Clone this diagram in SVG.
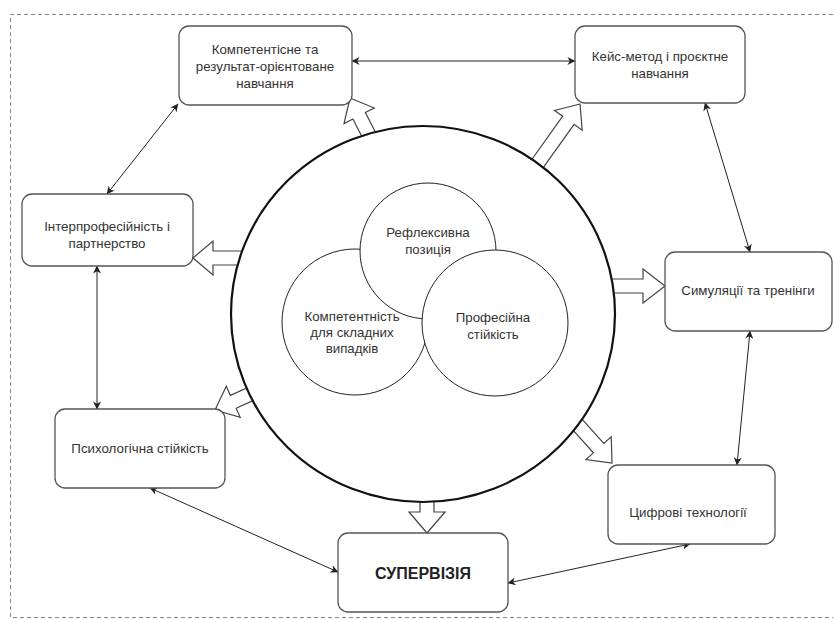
<svg xmlns="http://www.w3.org/2000/svg" width="835" height="619" viewBox="0 0 835 619">
<style>
.box{fill:#fff;stroke:#555;stroke-width:1.3}
.t{font-family:"Liberation Sans",Arial,sans-serif;font-size:13.3px;fill:#333;text-anchor:middle}
.tb{font-family:"Liberation Sans",Arial,sans-serif;font-size:16px;font-weight:bold;fill:#222;text-anchor:middle}
.con{fill:none;stroke:#222;stroke-width:1}
.fa{fill:#fff;stroke:#444;stroke-width:1.2;stroke-linejoin:miter}
.ic{fill:#fff;stroke:#222;stroke-width:1}
</style>
<defs>
<marker id="ah" viewBox="0 0 10 10" refX="9.5" refY="5" markerWidth="9" markerHeight="8" markerUnits="userSpaceOnUse" orient="auto-start-reverse">
<path d="M0,0 L10,5 L0,10 L3,5 Z" fill="#222"/>
</marker>
</defs>
<rect width="835" height="619" fill="#fff"/>
<path d="M833,14.5 H10.5 V617.5 H833" fill="none" stroke="#888" stroke-width="1" stroke-dasharray="4 3"/>

<g id="block-arrows">
<path class="fa" transform="translate(350,98) rotate(-117.2)" d="M0,0 L-20,-17 L-20,-7 L-50,-7 L-50,7 L-20,7 L-20,17 Z"/>
<path class="fa" transform="translate(580,104) rotate(-54.5)" d="M0,0 L-20,-17 L-20,-7 L-79,-7 L-79,7 L-20,7 L-20,17 Z"/>
<path class="fa" transform="translate(193,258) rotate(180)" d="M0,0 L-20,-17 L-20,-7 L-57,-7 L-57,7 L-20,7 L-20,17 Z"/>
<path class="fa" transform="translate(665,286) rotate(0)" d="M0,0 L-22,-17 L-22,-7 L-62,-7 L-62,7 L-22,7 L-22,17 Z"/>
<path class="fa" transform="translate(612,463) rotate(48)" d="M0,0 L-20,-17 L-20,-7 L-59,-7 L-59,7 L-20,7 L-20,17 Z"/>
<path class="fa" transform="translate(427,533) rotate(90)" d="M0,0 L-21,-18 L-21,-7 L-41,-7 L-41,7 L-21,7 L-21,18 Z"/>
<path class="fa" transform="translate(215,410) rotate(155.8)" d="M0,0 L-20,-17 L-20,-7 L-54,-7 L-54,7 L-20,7 L-20,17 Z"/>
</g>

<g id="center">
<ellipse cx="423" cy="314" rx="192" ry="188" fill="#fff" stroke="#111" stroke-width="2.2"/>
<circle class="ic" cx="355" cy="322" r="73"/>
<circle class="ic" cx="428" cy="251" r="68"/>
<circle class="ic" cx="495" cy="323" r="73"/>
<text class="t" x="428" y="237">Рефлексивна</text>
<text class="t" x="428" y="254">позиція</text>
<text class="t" x="352" y="321">Компетентність</text>
<text class="t" x="352" y="337">для складних</text>
<text class="t" x="352" y="353">випадків</text>
<text class="t" x="493" y="322">Професійна</text>
<text class="t" x="493" y="339">стійкість</text>
</g>

<g id="connectors">
<path class="con" d="M352,61 L575,61" marker-start="url(#ah)" marker-end="url(#ah)"/>
<path class="con" d="M178,104 L107,194" marker-start="url(#ah)" marker-end="url(#ah)"/>
<path class="con" d="M97,266 L97,409" marker-start="url(#ah)" marker-end="url(#ah)"/>
<path class="con" d="M150,488 L338,572" marker-start="url(#ah)" marker-end="url(#ah)"/>
<path class="con" d="M508,583 L690,544" marker-start="url(#ah)" marker-end="url(#ah)"/>
<path class="con" d="M737,465 L750,331" marker-start="url(#ah)" marker-end="url(#ah)"/>
<path class="con" d="M750,252 L705,103" marker-start="url(#ah)" marker-end="url(#ah)"/>
</g>

<g id="n-competence">
<rect class="box" x="179" y="26" width="173" height="79" rx="10"/>
<text class="t" x="265" y="54">Компетентісне та</text>
<text class="t" x="265" y="71">результат-орієнтоване</text>
<text class="t" x="265" y="88">навчання</text>
</g>
<g id="n-case">
<rect class="box" x="575" y="26" width="170" height="77" rx="10"/>
<text class="t" x="660" y="61">Кейс-метод і проєктне</text>
<text class="t" x="660" y="78">навчання</text>
</g>
<g id="n-inter">
<rect class="box" x="22" y="194" width="171" height="72" rx="10"/>
<text class="t" x="107" y="231">Інтерпрофесійність і</text>
<text class="t" x="107" y="248">партнерство</text>
</g>
<g id="n-psych">
<rect class="box" x="55" y="409" width="170" height="79" rx="10"/>
<text class="t" x="140" y="453">Психологічна стійкість</text>
</g>
<g id="n-sim">
<rect class="box" x="665" y="252" width="167" height="79" rx="10"/>
<text class="t" x="748" y="295">Симуляції та тренінги</text>
</g>
<g id="n-digital">
<rect class="box" x="608" y="465" width="167" height="79" rx="10"/>
<text class="t" x="688" y="517">Цифрові технології</text>
</g>
<g id="n-supervision">
<rect class="box" x="338" y="533" width="170" height="79" rx="10"/>
<text class="tb" x="423" y="579">СУПЕРВІЗІЯ</text>
</g>
</svg>
